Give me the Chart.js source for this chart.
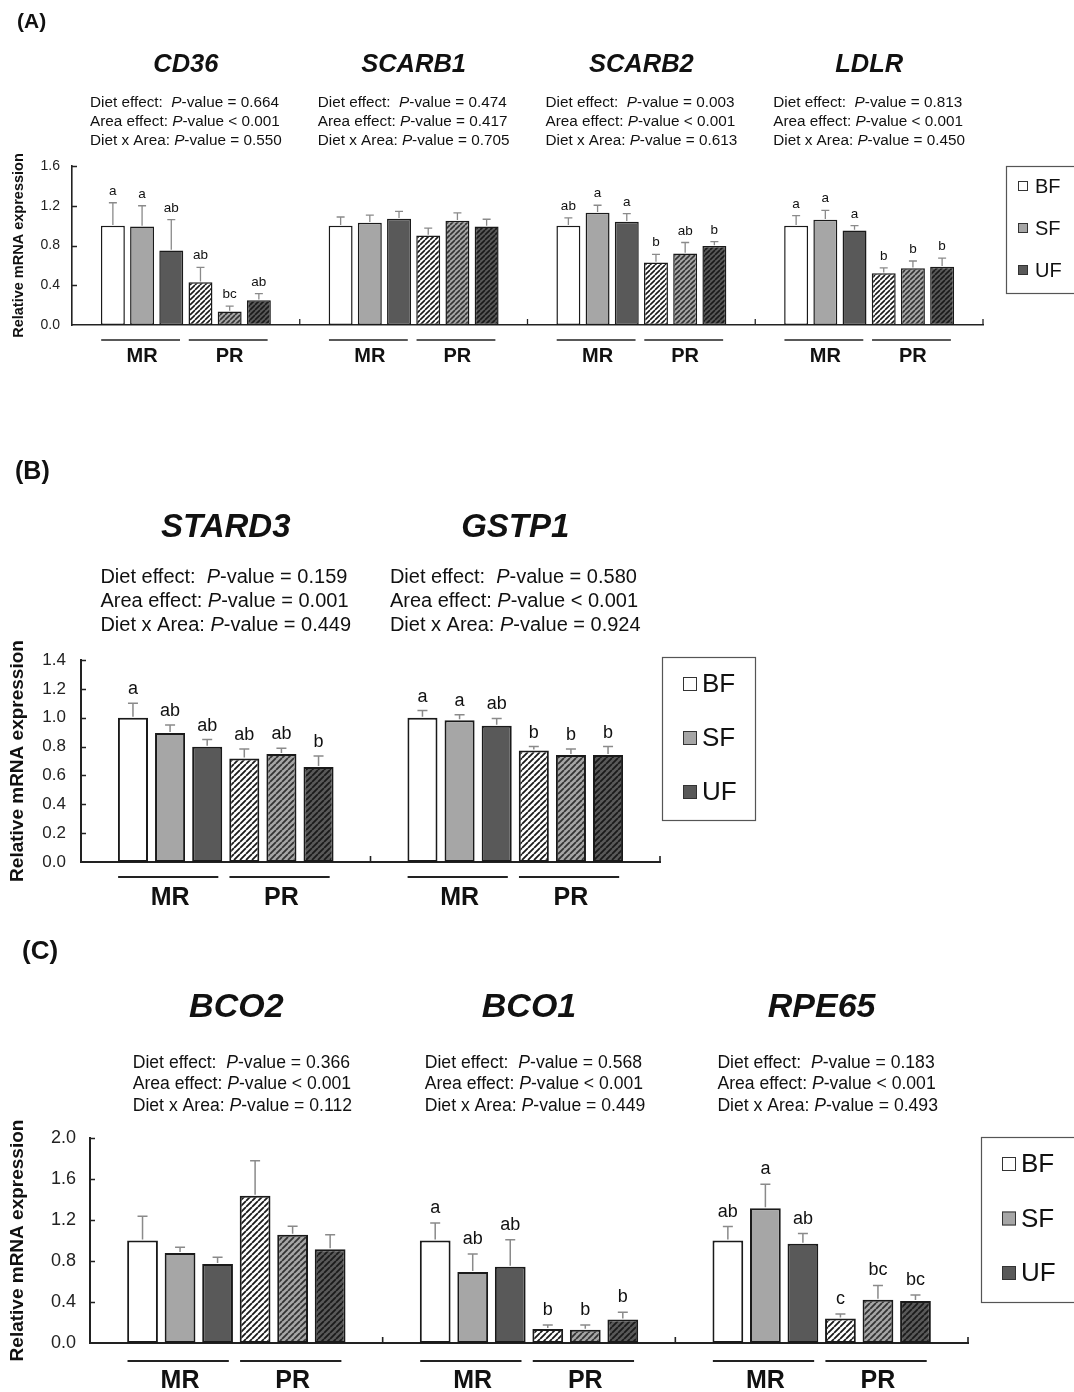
<!DOCTYPE html>
<html>
<head>
<meta charset="utf-8">
<script src="https://cdn.jsdelivr.net/npm/chart.js@4.4.1/dist/chart.umd.min.js"></script>
<style>
  body { margin: 0; background: #fff; width: 1074px; height: 1392px; position: relative; overflow: hidden; }
  .panel { position: absolute; left: 0; width: 1074px; }
</style>
</head>
<body>
<div class="panel" style="top:0px;height:385px"><canvas id="chartA"></canvas></div>
<div class="panel" style="top:440px;height:475px"><canvas id="chartB"></canvas></div>
<div class="panel" style="top:925px;height:467px"><canvas id="chartC"></canvas></div>
<script>
// groups and legend
const dietLabels = ["BF", "SF", "UF"];
const areaLabels = ["MR", "PR"];
const statLabels = ["Diet effect:  ", "Area effect: ", "Diet x Area: "];

// bar order in every gene: MR-BF, MR-SF, MR-UF, PR-BF, PR-SF, PR-UF

// (A)
const genesA = ["CD36", "SCARB1", "SCARB2", "LDLR"];
const meansA = [
  [1.00, 0.99, 0.75, 0.43, 0.135, 0.25],
  [1.00, 1.03, 1.07, 0.90, 1.05, 0.99],
  [1.00, 1.13, 1.04, 0.63, 0.72, 0.795],
  [1.00, 1.06, 0.95, 0.52, 0.57, 0.585]
];
const semsA = [
  [0.23, 0.21, 0.31, 0.15, 0.055, 0.066],
  [0.087, 0.076, 0.074, 0.074, 0.078, 0.074],
  [0.077, 0.075, 0.08, 0.081, 0.11, 0.045],
  [0.10, 0.094, 0.05, 0.054, 0.074, 0.087]
];
const lettersA = [
  ["a", "a", "ab", "ab", "bc", "ab"],
  [],
  ["ab", "a", "a", "b", "ab", "b"],
  ["a", "a", "a", "b", "b", "b"]
];
const statsA = [
  ["= 0.664", "< 0.001", "= 0.550"],
  ["= 0.474", "= 0.417", "= 0.705"],
  ["= 0.003", "< 0.001", "= 0.613"],
  ["= 0.813", "< 0.001", "= 0.450"]
];
const yTicksA = [0.0, 0.4, 0.8, 1.2, 1.6];

// (B)
const genesB = ["STARD3", "GSTP1"];
const meansB = [
  [1.00, 0.894, 0.798, 0.718, 0.748, 0.658],
  [1.00, 0.982, 0.945, 0.773, 0.741, 0.741]
];
const semsB = [
  [0.10, 0.056, 0.051, 0.066, 0.041, 0.076],
  [0.05, 0.039, 0.05, 0.027, 0.043, 0.059]
];
const lettersB = [
  ["a", "ab", "ab", "ab", "ab", "b"],
  ["a", "a", "ab", "b", "b", "b"]
];
const statsB = [
  ["= 0.159", "= 0.001", "= 0.449"],
  ["= 0.580", "< 0.001", "= 0.924"]
];
const yTicksB = [0.0, 0.2, 0.4, 0.6, 0.8, 1.0, 1.2, 1.4];

// (C)
const genesC = ["BCO2", "BCO1", "RPE65"];
const meansC = [
  [1.00, 0.878, 0.771, 1.437, 1.057, 0.914],
  [1.00, 0.693, 0.745, 0.136, 0.13, 0.23],
  [1.00, 1.315, 0.968, 0.24, 0.422, 0.409]
];
const semsC = [
  [0.236, 0.055, 0.065, 0.342, 0.081, 0.143],
  [0.17, 0.175, 0.263, 0.039, 0.045, 0.07],
  [0.136, 0.234, 0.10, 0.042, 0.14, 0.059]
];
const lettersC = [
  [],
  ["a", "ab", "ab", "b", "b", "b"],
  ["ab", "a", "ab", "c", "bc", "bc"]
];
const statsC = [
  ["= 0.366", "< 0.001", "= 0.112"],
  ["= 0.568", "< 0.001", "= 0.449"],
  ["= 0.183", "< 0.001", "= 0.493"]
];
const yTicksC = [0.0, 0.4, 0.8, 1.2, 1.6, 2.0];

// layout of one gene block, in bar slots
const GW = 7.8;
const PAD = 0.9;
const FONT = '"Liberation Sans", Arial, Helvetica, sans-serif';
const INK = "#111";
const fills = ["#ffffff", "#a6a6a6", "#595959"];
const stripes = ["#1a1a1a", "#333333", "#1a1a1a"];

const panels = [
  {
    id: "chartA", tag: "(A)", genes: genesA, means: meansA, sems: semsA,
    letters: lettersA, stats: statsA, yTicks: yTicksA,
    st: {
      h: 385, area: { top: 166, bottom: 325, left: 72, right: 983 },
      tag: { x: 17, y: 22, size: 21 }, title: { dy: -101, size: 25.5 },
      stats: { dy: [-63, -44, -25], size: 15.3, dx: 0 },
      tick: { size: 14, pad: 12 }, ytitle: { size: 14.5, pad: 10 },
      letter: { size: 13.5, gap: 8 }, err: { w: 1.3, cap: 4 },
      bar: { border: 1.5, pct: 0.82, hatch: 5, hw: 1.6 }, axis: 1.6,
      under: { line: 15, label: 31, size: 20, lw: 1.5 },
      legend: { x: 1006, y: 166, w: 100, h: 127, sq: 10, size: 20, row0: 20, step: 42, sqx: 12, tx: 29 }
    }
  },
  {
    id: "chartB", tag: "(B)", genes: genesB, means: meansB, sems: semsB,
    letters: lettersB, stats: statsB, yTicks: yTicksB,
    st: {
      h: 475, area: { top: 220, bottom: 422, left: 81, right: 660 },
      tag: { x: 15, y: 32, size: 25 }, title: { dy: -132, size: 33 },
      stats: { dy: [-83, -59, -35], size: 20, dx: 0 },
      tick: { size: 17, pad: 15 }, ytitle: { size: 19, pad: 6 },
      letter: { size: 18, gap: 9 }, err: { w: 1.5, cap: 5 },
      bar: { border: 2, pct: 0.81, hatch: 6, hw: 1.8 }, axis: 2,
      under: { line: 15, label: 36, size: 25, lw: 1.8 },
      legend: { x: 662, y: 217, w: 93, h: 163, sq: 14, size: 26, row0: 27, step: 54, sqx: 21, tx: 40 }
    }
  },
  {
    id: "chartC", tag: "(C)", genes: genesC, means: meansC, sems: semsC,
    letters: lettersC, stats: statsC, yTicks: yTicksC,
    st: {
      h: 467, area: { top: 213, bottom: 418, left: 90, right: 968 },
      tag: { x: 22, y: 27, size: 26 }, title: { dy: -130, size: 34 },
      stats: { dy: [-75, -54, -32], size: 17.6, dx: 6 },
      tick: { size: 18, pad: 14 }, ytitle: { size: 19, pad: 6 },
      letter: { size: 18, gap: 10 }, err: { w: 1.5, cap: 5 },
      bar: { border: 2, pct: 0.82, hatch: 6, hw: 1.8 }, axis: 2,
      under: { line: 18, label: 38, size: 25, lw: 1.8 },
      legend: { x: 981, y: 212, w: 110, h: 165, sq: 14, size: 26, row0: 27, step: 54.5, sqx: 21, tx: 40 }
    }
  }
];

function hatch(ctx, bg, fg, size, lw) {
  const c = document.createElement("canvas");
  c.width = size;
  c.height = size;
  const g = c.getContext("2d");
  g.fillStyle = bg;
  g.fillRect(0, 0, size, size);
  g.strokeStyle = fg;
  g.lineWidth = lw;
  g.beginPath();
  for (const k of [-1, 0, 1]) {
    g.moveTo(k * size, size);
    g.lineTo(k * size + size, 0);
  }
  g.stroke();
  return ctx.createPattern(c, "repeat");
}

function barX(gi, k) {
  return gi * GW + PAD + 0.5 + k;
}

function statWidth(ctx, label, stat, size) {
  ctx.font = `${size}px ${FONT}`;
  let w = ctx.measureText(label).width + ctx.measureText("-value " + stat).width;
  ctx.font = `italic ${size}px ${FONT}`;
  return w + ctx.measureText("P").width;
}

function statLine(ctx, x, y, label, stat, size) {
  ctx.font = `${size}px ${FONT}`;
  ctx.fillText(label, x, y);
  x += ctx.measureText(label).width;
  ctx.font = `italic ${size}px ${FONT}`;
  ctx.fillText("P", x, y);
  x += ctx.measureText("P").width;
  ctx.font = `${size}px ${FONT}`;
  ctx.fillText("-value " + stat, x, y);
}

function makeChart(p) {
  const st = p.st;
  const canvas = document.getElementById(p.id);
  const ctx = canvas.getContext("2d");

  const datasets = [];
  areaLabels.forEach((area, a) => {
    dietLabels.forEach((diet, d) => {
      const k = a * 3 + d;
      datasets.push({
        label: area + " " + diet,
        data: p.genes.map((g, gi) => ({ x: barX(gi, k), y: p.means[gi][k] })),
        backgroundColor: a === 0 ? fills[d] : hatch(ctx, fills[d], stripes[d], st.bar.hatch, st.bar.hw),
        borderColor: "#1a1a1a",
        borderWidth: st.bar.border,
        borderSkipped: false,
        grouped: false,
        barPercentage: st.bar.pct,
        categoryPercentage: 1
      });
    });
  });

  // error bars, letters, titles, stats, group labels, legend
  const decor = {
    id: "decor" + p.id,
    afterDatasetsDraw(chart) {
      const { ctx, scales: { x, y } } = chart;
      ctx.save();
      ctx.strokeStyle = "#8a8a8a";
      ctx.lineWidth = st.err.w;
      p.genes.forEach((g, gi) => {
        p.means[gi].forEach((m, k) => {
          const px = x.getPixelForValue(barX(gi, k));
          const y0 = y.getPixelForValue(m) - st.bar.border / 2;
          const y1 = y.getPixelForValue(m + p.sems[gi][k]);
          ctx.beginPath();
          ctx.moveTo(px, y0);
          ctx.lineTo(px, y1);
          ctx.moveTo(px - st.err.cap, y1);
          ctx.lineTo(px + st.err.cap, y1);
          ctx.stroke();
        });
      });
      ctx.restore();
    },
    afterDraw(chart) {
      const { ctx, chartArea: ca, scales: { x, y } } = chart;
      ctx.save();
      ctx.fillStyle = INK;
      ctx.strokeStyle = "#222";

      // inward ticks on the y axis
      ctx.lineWidth = st.axis * 0.8;
      ctx.beginPath();
      p.yTicks.forEach((v) => {
        if (v === 0) return;
        const py = Math.round(y.getPixelForValue(v)) + 0.5;
        ctx.moveTo(ca.left, py);
        ctx.lineTo(ca.left + 5, py);
      });
      // separators between genes
      p.genes.forEach((g, gi) => {
        const px = x.getPixelForValue((gi + 1) * GW);
        ctx.moveTo(px, ca.bottom);
        ctx.lineTo(px, ca.bottom - 6);
      });
      ctx.stroke();

      // panel tag
      ctx.font = `bold ${st.tag.size}px ${FONT}`;
      ctx.textAlign = "left";
      ctx.textBaseline = "middle";
      ctx.fillText(p.tag, st.tag.x, st.tag.y);

      p.genes.forEach((g, gi) => {
        const cx = x.getPixelForValue(gi * GW + GW / 2);

        // gene title
        ctx.font = `italic bold ${st.title.size}px ${FONT}`;
        ctx.textAlign = "center";
        ctx.textBaseline = "middle";
        ctx.fillText(g, cx, ca.top + st.title.dy);

        // two-way ANOVA lines
        const widths = statLabels.map((l, i) => statWidth(ctx, l, p.stats[gi][i], st.stats.size));
        const left = cx + st.stats.dx - Math.max(...widths) / 2;
        ctx.textAlign = "left";
        statLabels.forEach((l, i) => {
          statLine(ctx, left, ca.top + st.stats.dy[i], l, p.stats[gi][i], st.stats.size);
        });

        // letters over the bars
        ctx.font = `${st.letter.size}px ${FONT}`;
        ctx.textAlign = "center";
        ctx.textBaseline = "alphabetic";
        (p.letters[gi] || []).forEach((t, k) => {
          const px = x.getPixelForValue(barX(gi, k));
          const py = y.getPixelForValue(p.means[gi][k] + p.sems[gi][k]);
          ctx.fillText(t, px, py - st.letter.gap);
        });

        // MR / PR under the axis
        areaLabels.forEach((area, a) => {
          const x0 = x.getPixelForValue(barX(gi, a * 3) - 0.4);
          const x1 = x.getPixelForValue(barX(gi, a * 3 + 2) + 0.3);
          ctx.lineWidth = st.under.lw;
          ctx.strokeStyle = "#222";
          ctx.beginPath();
          ctx.moveTo(x0, ca.bottom + st.under.line);
          ctx.lineTo(x1, ca.bottom + st.under.line);
          ctx.stroke();
          ctx.font = `bold ${st.under.size}px ${FONT}`;
          ctx.textBaseline = "middle";
          ctx.fillText(area, x.getPixelForValue(barX(gi, a * 3 + 1)), ca.bottom + st.under.label);
        });
      });

      // legend box
      const lg = st.legend;
      ctx.lineWidth = 1.2;
      ctx.strokeStyle = "#555";
      ctx.strokeRect(lg.x + 0.5, lg.y + 0.5, lg.w, lg.h);
      ctx.font = `${lg.size}px ${FONT}`;
      ctx.textAlign = "left";
      ctx.textBaseline = "middle";
      dietLabels.forEach((d, i) => {
        const ry = lg.y + lg.row0 + i * lg.step;
        ctx.fillStyle = fills[i];
        ctx.fillRect(lg.x + lg.sqx, ry - lg.sq / 2, lg.sq, lg.sq);
        ctx.strokeStyle = "#333";
        ctx.lineWidth = 1;
        ctx.strokeRect(lg.x + lg.sqx + 0.5, ry - lg.sq / 2 + 0.5, lg.sq - 1, lg.sq - 1);
        ctx.fillStyle = INK;
        ctx.fillText(d, lg.x + lg.tx, ry + 1);
      });
      ctx.restore();
    }
  };

  return new Chart(canvas, {
    type: "bar",
    data: { datasets },
    options: {
      responsive: true,
      maintainAspectRatio: false,
      animation: false,
      layout: {
        padding: { top: st.area.top, bottom: st.h - st.area.bottom, left: 0, right: 1074 - st.area.right }
      },
      plugins: { legend: { display: false }, tooltip: { enabled: false } },
      scales: {
        x: {
          type: "linear",
          offset: false,
          min: 0,
          max: p.genes.length * GW,
          afterBuildTicks: (s) => { s.ticks = p.genes.map((g, gi) => ({ value: gi * GW })); },
          afterFit: (s) => { s.height = 0; },
          ticks: { display: false },
          grid: { display: false, drawTicks: false, offset: false },
          border: { display: true, color: "#222", width: st.axis }
        },
        y: {
          min: p.yTicks[0],
          max: p.yTicks[p.yTicks.length - 1],
          afterBuildTicks: (s) => { s.ticks = p.yTicks.map((v) => ({ value: v })); },
          afterFit: (s) => { s.width = st.area.left; },
          ticks: {
            padding: st.tick.pad,
            color: "#222",
            font: { family: FONT, size: st.tick.size },
            callback: (v) => Number(v).toFixed(1)
          },
          grid: { display: false, drawTicks: false },
          border: { display: true, color: "#222", width: st.axis },
          title: {
            display: true,
            text: "Relative mRNA expression",
            color: INK,
            padding: { top: st.ytitle.pad, bottom: 0 },
            font: { family: FONT, size: st.ytitle.size, weight: "bold" }
          }
        }
      }
    },
    plugins: [decor]
  });
}

panels.forEach(makeChart);
</script>
</body>
</html>
